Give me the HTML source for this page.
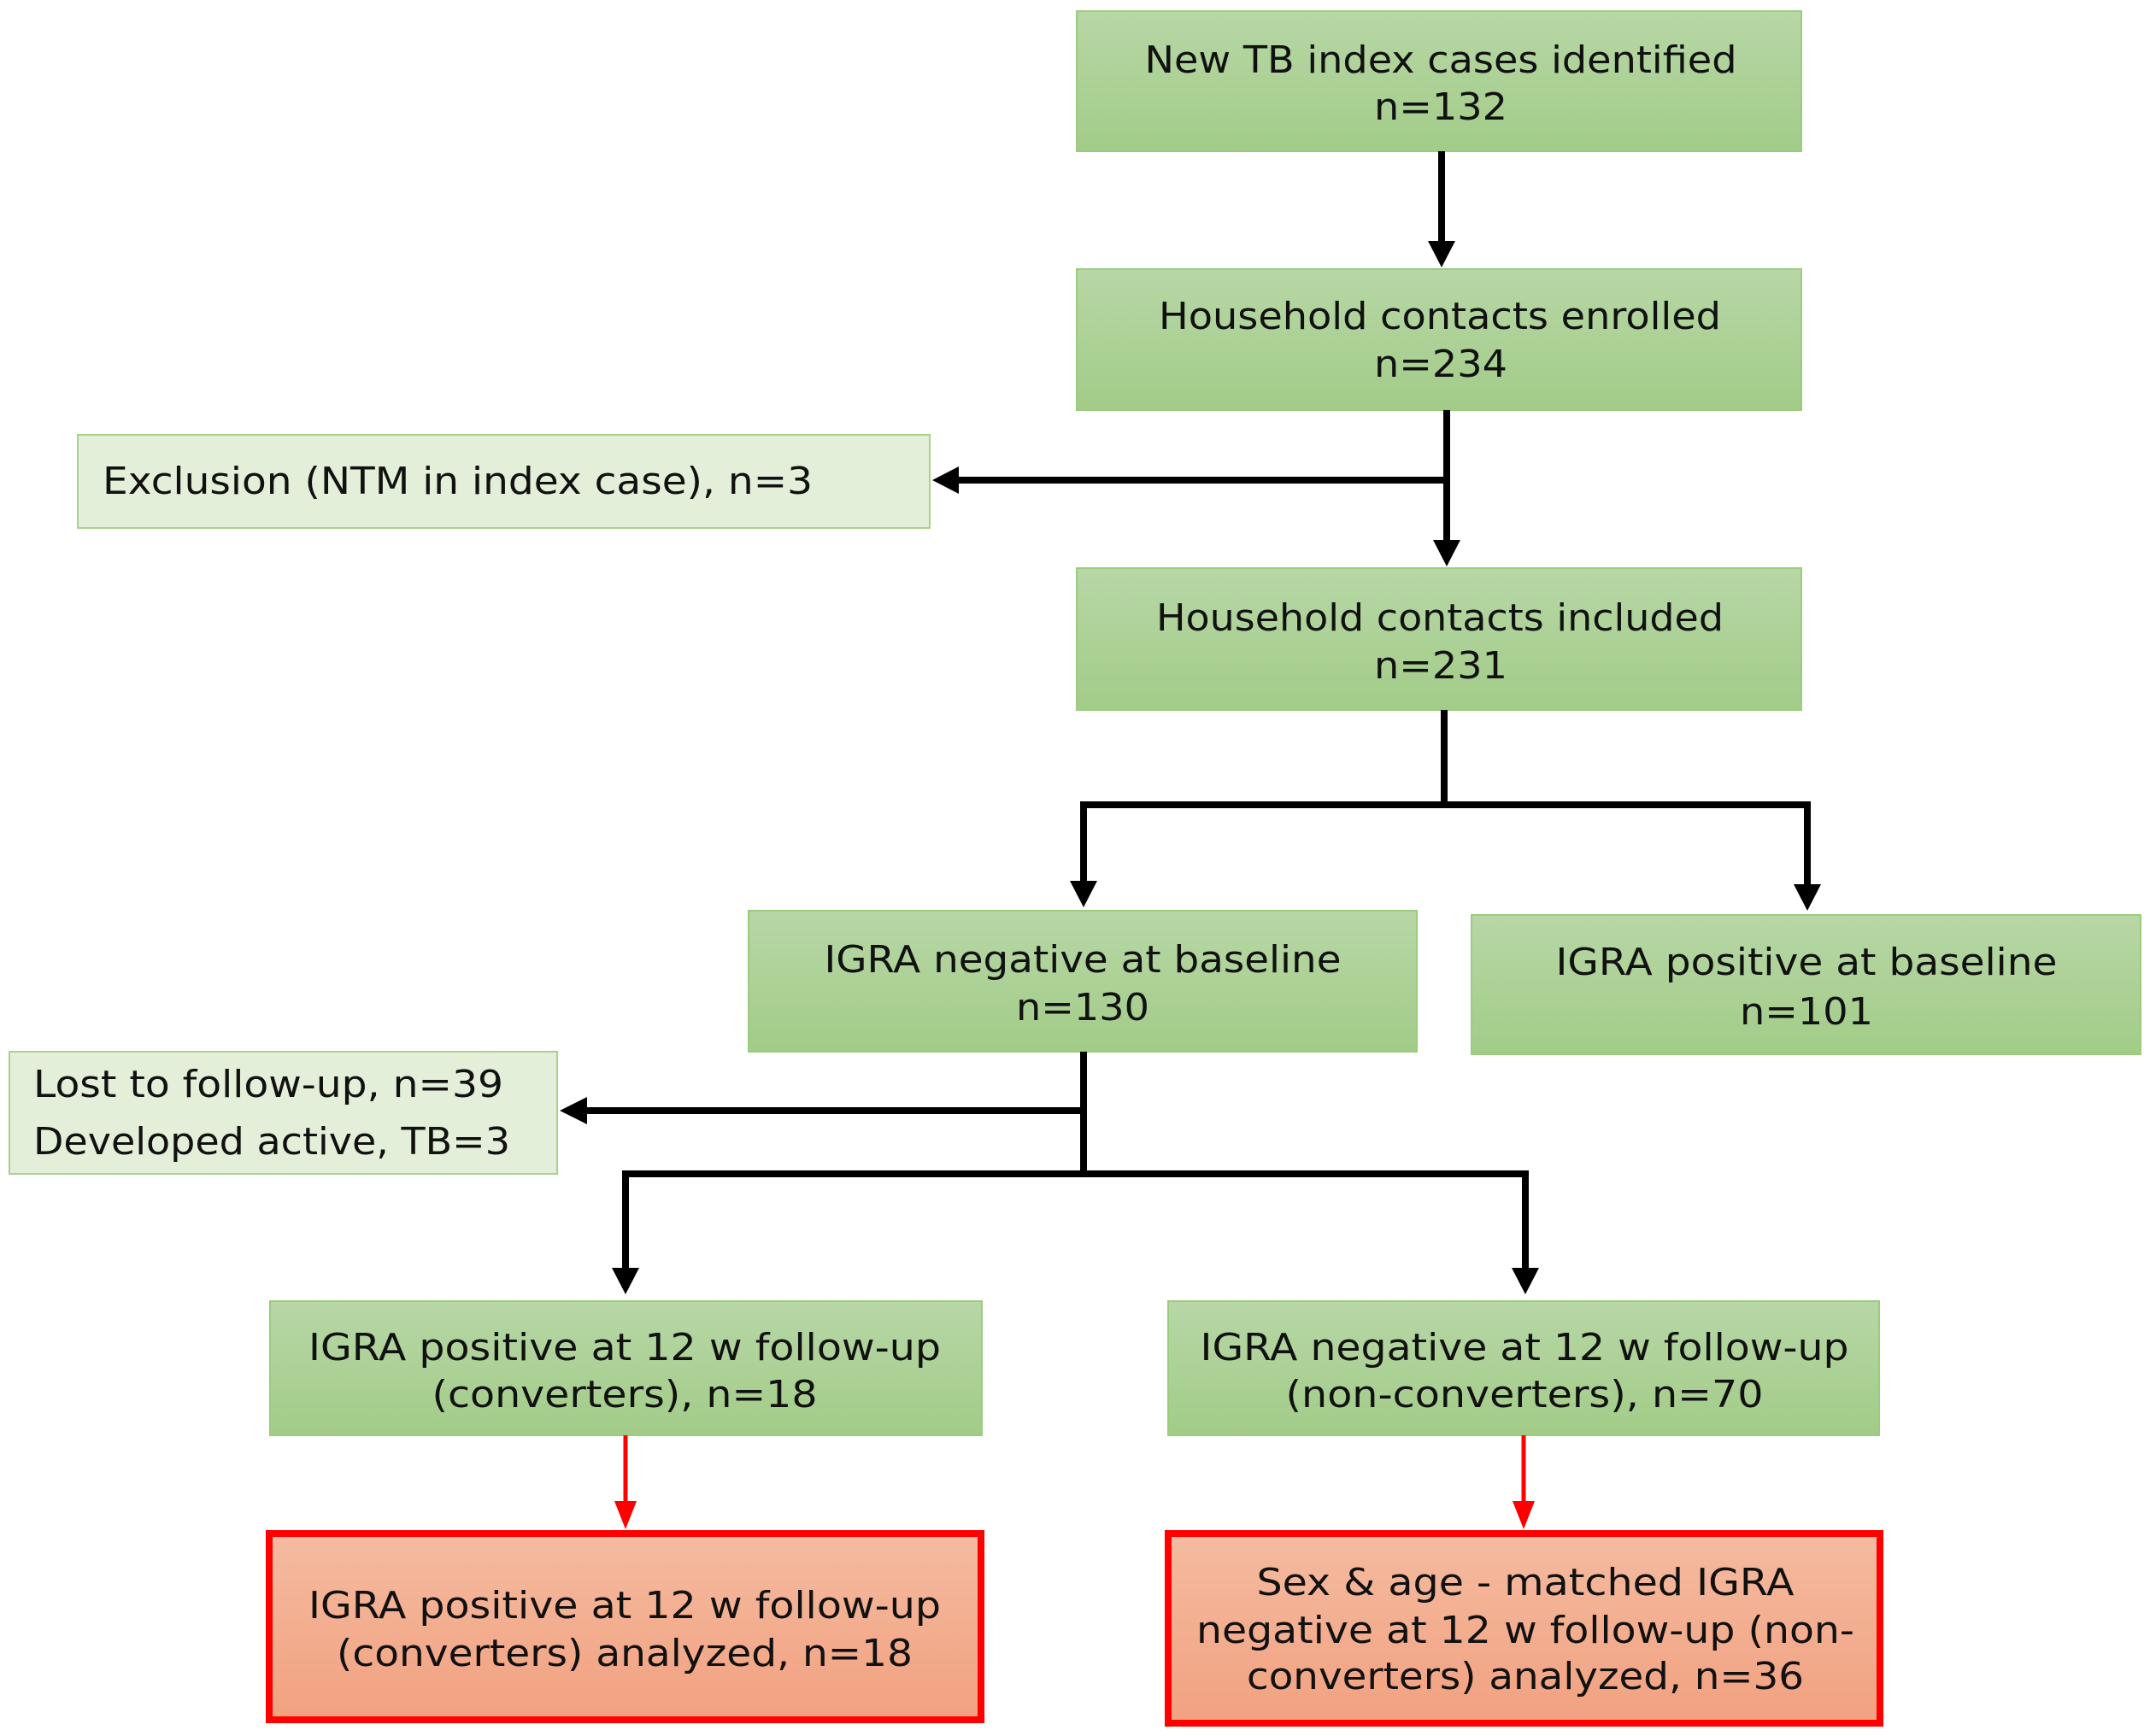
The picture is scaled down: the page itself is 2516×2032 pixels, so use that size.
<!DOCTYPE html>
<html><head><meta charset="utf-8"><style>html,body{margin:0;padding:0;background:#fff}svg{display:block}</style></head><body>
<svg width="2516" height="2032" viewBox="0 0 2516 2032" xmlns="http://www.w3.org/2000/svg" font-family="'DejaVu Sans','Liberation Sans',sans-serif" font-size="44" fill="#111">
<defs>
<linearGradient id="g" x1="0" y1="0" x2="0" y2="1"><stop offset="0" stop-color="#b7d7a6"/><stop offset="1" stop-color="#a2cc88"/></linearGradient>
<linearGradient id="r" x1="0" y1="0" x2="0" y2="1"><stop offset="0" stop-color="#f5bba0"/><stop offset="1" stop-color="#f1a180"/></linearGradient>
</defs>
<g stroke="#9ccb7e" stroke-width="2" fill="url(#g)">
<rect x="1260" y="13" width="848" height="164"/>
<rect x="1260" y="315" width="848" height="165"/>
<rect x="1260" y="665" width="848" height="166"/>
<rect x="876" y="1066" width="782" height="165"/>
<rect x="1722" y="1071" width="783" height="163"/>
<rect x="316" y="1523" width="833" height="157"/>
<rect x="1367" y="1523" width="832" height="157"/>
</g>
<g stroke="#a9d18e" stroke-width="2" fill="#e3efd9">
<rect x="91" y="509" width="997" height="109"/>
<rect x="11" y="1231" width="641" height="143"/>
</g>
<g stroke="#ff0000" stroke-width="8" fill="url(#r)">
<rect x="315" y="1795" width="833" height="218"/>
<rect x="1367" y="1795" width="833" height="222"/>
</g>
<g stroke="#000" stroke-width="8" fill="none">
<line x1="1687" y1="177" x2="1687" y2="285"/>
<polyline points="1693,480 1693,635"/>
<polyline points="1693,562 1120,562"/>
<polyline points="1690,831 1690,942"/>
<polyline points="1268,1034 1268,942 2115,942 2115,1038"/>
<polyline points="1268,1231 1268,1374"/>
<polyline points="1268,1300 685,1300"/>
<polyline points="732,1487 732,1374 1785,1374 1785,1487"/>
</g>
<g fill="#000">
<polygon points="1671,282 1703,282 1687,313"/>
<polygon points="1677,632 1709,632 1693,663"/>
<polygon points="1122,546 1122,578 1091,562"/>
<polygon points="1252,1031 1284,1031 1268,1062"/>
<polygon points="2099,1035 2131,1035 2115,1066"/>
<polygon points="687,1284 687,1316 655,1300"/>
<polygon points="716,1484 748,1484 732,1515"/>
<polygon points="1769,1484 1801,1484 1785,1515"/>
</g>
<g stroke="#ff0000" stroke-width="5" fill="none">
<line x1="732" y1="1680" x2="732" y2="1760"/>
<line x1="1783" y1="1680" x2="1783" y2="1760"/>
</g>
<g fill="#ff0000">
<polygon points="719,1757 745,1757 732,1790"/>
<polygon points="1770,1757 1796,1757 1783,1790"/>
</g>
<g text-anchor="middle" lengthAdjust="spacingAndGlyphs">
<text x="1686" y="85" textLength="693" lengthAdjust="spacingAndGlyphs">New TB index cases identified</text>
<text x="1686" y="140" textLength="156" lengthAdjust="spacingAndGlyphs">n=132</text>
<text x="1685" y="385" textLength="658" lengthAdjust="spacingAndGlyphs">Household contacts enrolled</text>
<text x="1686" y="441" textLength="156" lengthAdjust="spacingAndGlyphs">n=234</text>
<text x="1685" y="738" textLength="664" lengthAdjust="spacingAndGlyphs">Household contacts included</text>
<text x="1686" y="794" textLength="156" lengthAdjust="spacingAndGlyphs">n=231</text>
<text x="1267" y="1138" textLength="605" lengthAdjust="spacingAndGlyphs">IGRA negative at baseline</text>
<text x="1267" y="1194" textLength="156" lengthAdjust="spacingAndGlyphs">n=130</text>
<text x="2114" y="1141" textLength="587" lengthAdjust="spacingAndGlyphs">IGRA positive at baseline</text>
<text x="2114" y="1199" textLength="156" lengthAdjust="spacingAndGlyphs">n=101</text>
<text x="731" y="1592" textLength="740" lengthAdjust="spacingAndGlyphs">IGRA positive at 12 w follow-up</text>
<text x="731" y="1647" textLength="451" lengthAdjust="spacingAndGlyphs">(converters), n=18</text>
<text x="1784" y="1592" textLength="759" lengthAdjust="spacingAndGlyphs">IGRA negative at 12 w follow-up</text>
<text x="1784" y="1647" textLength="559" lengthAdjust="spacingAndGlyphs">(non-converters), n=70</text>
<text x="731" y="1894" textLength="740" lengthAdjust="spacingAndGlyphs">IGRA positive at 12 w follow-up</text>
<text x="731" y="1950" textLength="674" lengthAdjust="spacingAndGlyphs">(converters) analyzed, n=18</text>
<text x="1785" y="1867" textLength="629" lengthAdjust="spacingAndGlyphs">Sex &amp; age - matched IGRA</text>
<text x="1785" y="1923" textLength="770" lengthAdjust="spacingAndGlyphs">negative at 12 w follow-up (non-</text>
<text x="1785" y="1977" textLength="652" lengthAdjust="spacingAndGlyphs">converters) analyzed, n=36</text>
</g>
<text x="120" y="578" textLength="831" lengthAdjust="spacingAndGlyphs">Exclusion (NTM in index case), n=3</text>
<text x="39" y="1284" textLength="550" lengthAdjust="spacingAndGlyphs">Lost to follow-up, n=39</text>
<text x="39" y="1351" textLength="558" lengthAdjust="spacingAndGlyphs">Developed active, TB=3</text>
</svg>
</body></html>
